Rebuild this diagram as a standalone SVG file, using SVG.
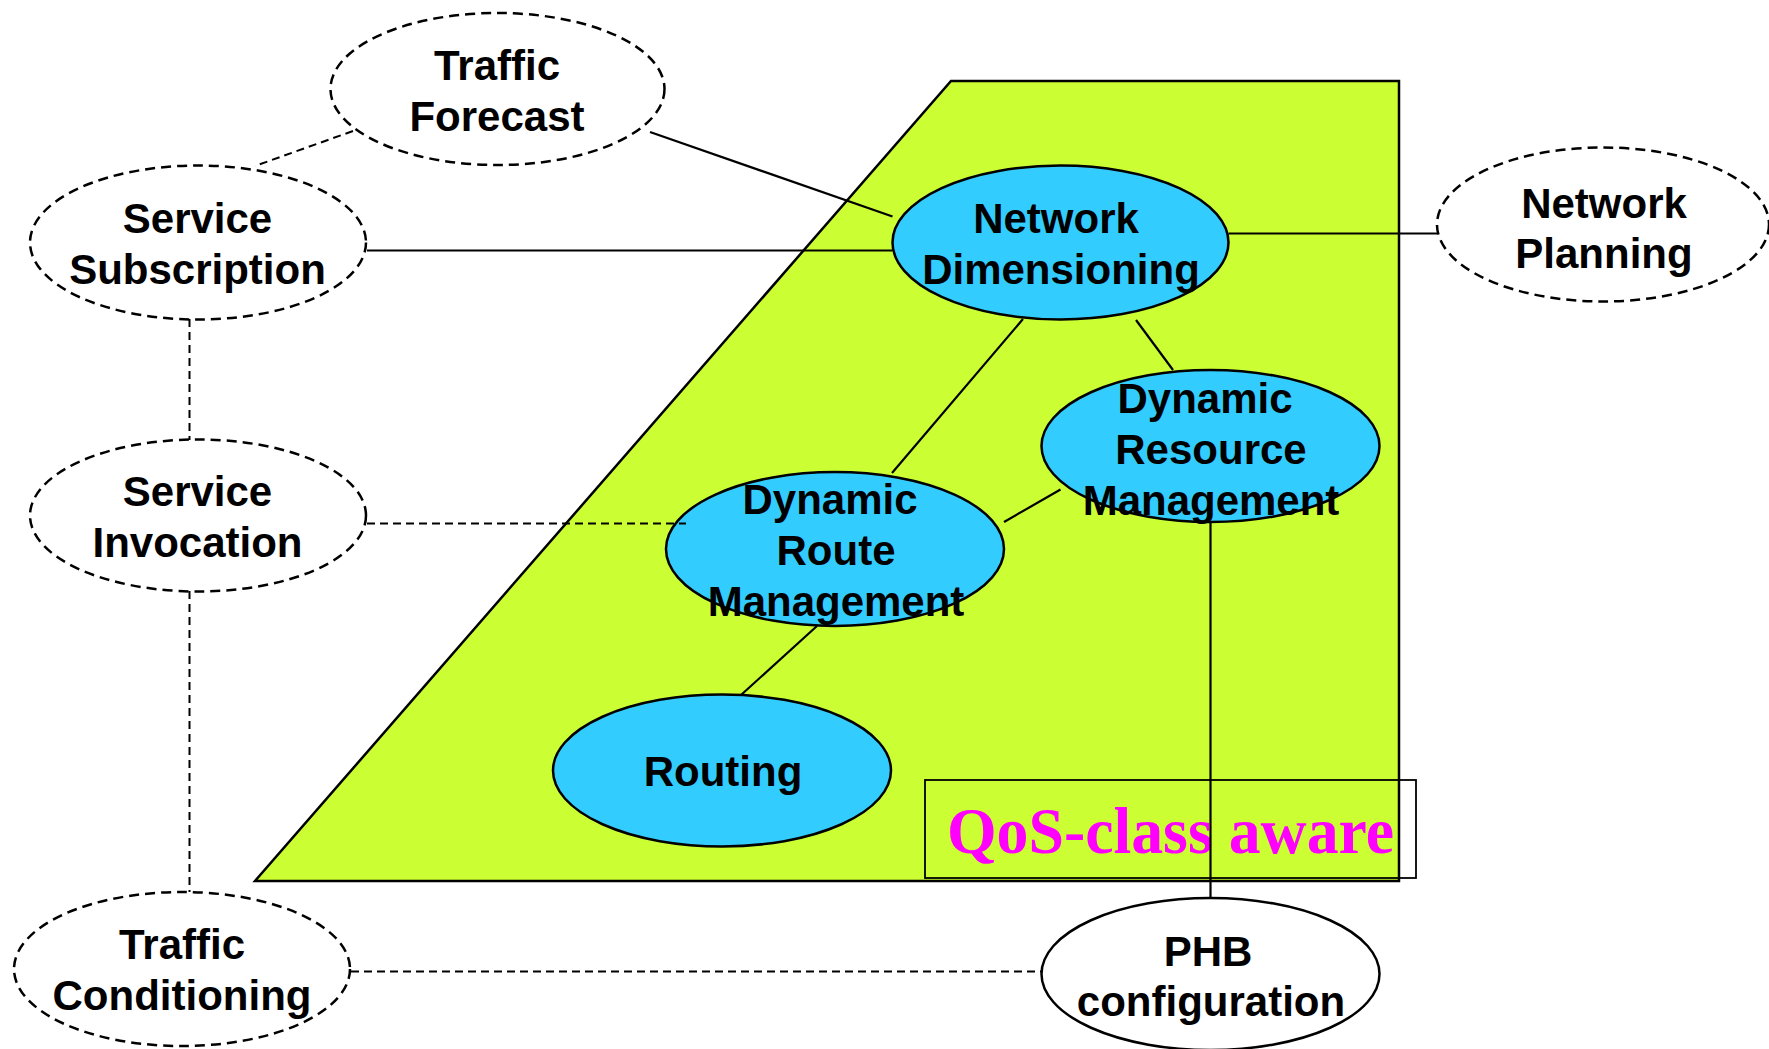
<svg xmlns="http://www.w3.org/2000/svg" width="1769" height="1049" viewBox="0 0 1769 1049">
<defs>
<style>
.lbl{font-family:"Liberation Sans",Arial,sans-serif;font-weight:bold;font-size:42px;fill:#000;text-anchor:middle}
.dash{fill:#fff;stroke:#000;stroke-width:2.5;stroke-dasharray:10 6}
.blue{fill:#33CCFF;stroke:#000;stroke-width:2.5}
.white{fill:#fff;stroke:#000;stroke-width:2.5}
.solid{stroke:#000;stroke-width:2.2;fill:none}
.dline{stroke:#000;stroke-width:2;fill:none;stroke-dasharray:8 5}
.qos{font-family:"Liberation Serif","Times New Roman",serif;font-weight:bold;font-size:65px;fill:#FF00FF}
</style>
</defs>
<rect width="1769" height="1049" fill="#fff"/>
<g id="area">
<polygon points="951,81 1399,81 1399,881 255,881" fill="#CCFF33" stroke="#000" stroke-width="2.5"/>
</g>
<g id="qos-label">
<rect x="925" y="780" width="491" height="98" fill="none" stroke="#000" stroke-width="1.8"/>
<text class="qos" x="947" y="853" textLength="447" lengthAdjust="spacingAndGlyphs">QoS-class aware</text>
</g>
<g id="traffic-forecast">
<ellipse class="dash" cx="497.5" cy="89" rx="167" ry="76"/>
<text class="lbl" x="497" y="80">Traffic</text>
<text class="lbl" x="497" y="131">Forecast</text>
</g>
<g id="service-subscription">
<ellipse class="dash" cx="198" cy="242.5" rx="168" ry="77"/>
<text class="lbl" x="197.5" y="233">Service</text>
<text class="lbl" x="197.5" y="284">Subscription</text>
</g>
<g id="service-invocation">
<ellipse class="dash" cx="198" cy="515.5" rx="168" ry="76"/>
<text class="lbl" x="197.5" y="506">Service</text>
<text class="lbl" x="197.5" y="557">Invocation</text>
</g>
<g id="traffic-conditioning">
<ellipse class="dash" cx="182" cy="969" rx="168" ry="77"/>
<text class="lbl" x="182" y="959">Traffic</text>
<text class="lbl" x="182" y="1010">Conditioning</text>
</g>
<g id="network-planning">
<ellipse class="dash" cx="1603" cy="224.5" rx="166" ry="77"/>
<text class="lbl" x="1604" y="218">Network</text>
<text class="lbl" x="1604" y="268">Planning</text>
</g>
<g id="network-dimensioning">
<ellipse class="blue" cx="1060.5" cy="242.5" rx="168" ry="77"/>
<text class="lbl" x="1056" y="233">Network</text>
<text class="lbl" x="1061" y="284">Dimensioning</text>
</g>
<g id="dynamic-resource-management">
<ellipse class="blue" cx="1210.5" cy="446" rx="169" ry="76"/>
<text class="lbl" x="1205" y="413">Dynamic</text>
<text class="lbl" x="1211" y="464">Resource</text>
<text class="lbl" x="1211" y="515">Management</text>
</g>
<g id="dynamic-route-management">
<ellipse class="blue" cx="835" cy="549" rx="169" ry="77"/>
<text class="lbl" x="830" y="514">Dynamic</text>
<text class="lbl" x="836" y="565">Route</text>
<text class="lbl" x="836" y="616">Management</text>
</g>
<g id="routing">
<ellipse class="blue" cx="722" cy="770.5" rx="169" ry="76"/>
<text class="lbl" x="723" y="786">Routing</text>
</g>
<g id="phb-configuration">
<ellipse class="white" cx="1210.5" cy="974" rx="169" ry="76"/>
<text class="lbl" x="1208" y="966">PHB</text>
<text class="lbl" x="1211" y="1016">configuration</text>
</g>
<g id="connectors">
<line class="solid" x1="650" y1="132" x2="892.5" y2="216.5"/>
<line class="solid" x1="367" y1="250.5" x2="892.5" y2="250.5"/>
<line class="solid" x1="1228.5" y1="233.5" x2="1437" y2="233.5"/>
<line class="solid" x1="1023" y1="319" x2="892" y2="473"/>
<line class="solid" x1="1136" y1="320" x2="1173" y2="370"/>
<line class="solid" x1="1004" y1="522" x2="1060.5" y2="489.5"/>
<line class="solid" x1="817" y1="626" x2="741" y2="695"/>
<line class="solid" x1="1210.5" y1="522" x2="1210.5" y2="898"/>
<line class="dline" x1="353" y1="131" x2="255" y2="166"/>
<line class="dline" x1="189.5" y1="319" x2="189.5" y2="440"/>
<line class="dline" x1="189.5" y1="591" x2="189.5" y2="892"/>
<line class="dline" x1="367" y1="523.5" x2="686" y2="523.5"/>
<line class="dline" x1="351" y1="971.5" x2="1041" y2="971.5"/>
</g>
</svg>
